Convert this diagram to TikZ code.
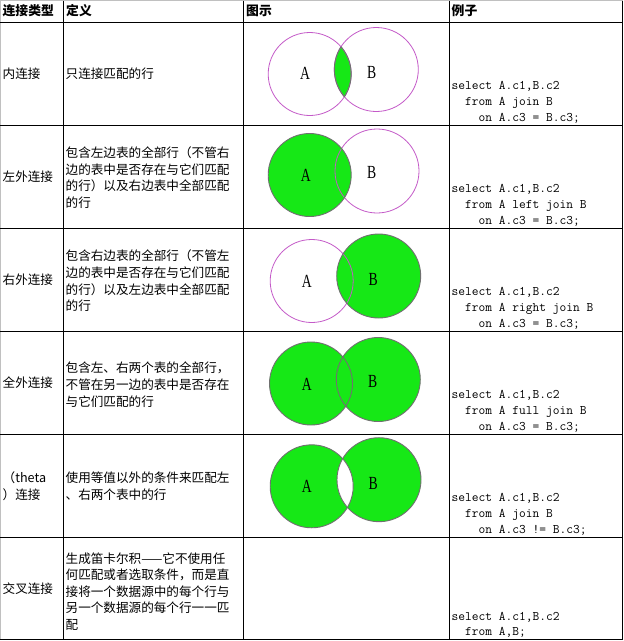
\documentclass[tikz,border=0pt]{standalone}
\usepackage{fontspec}
\setmainfont{Liberation Serif}
\newfontfamily\cjk{Noto Sans CJK SC}
\definecolor{vgreen}{RGB}{22,232,22}
\definecolor{vmag}{RGB}{196,90,200}
\definecolor{vgray}{RGB}{112,112,112}
\definecolor{lgray}{RGB}{192,192,192}
\tikzset{
  grid/.style={draw=black, line width=1pt},
  hdr/.style={inner sep=0pt, anchor=west, font=\cjk\bfseries\fontsize{12.8}{16}\selectfont},
  cell/.style={inner sep=0pt, anchor=west, align=left, font=\cjk\fontsize{12.6}{16.6}\selectfont},
  code/.style={inner sep=0pt, anchor=south west, align=left, font=\ttfamily\fontsize{13.1}{15.9}\selectfont},
  lbl/.style={inner sep=0pt, font=\fontsize{18.5}{18.5}\selectfont},
  magline/.style={draw=vmag, line width=0.8pt},
  grayline/.style={draw=vgray, line width=0.9pt},
  gfill/.style={fill=vgreen}
}
\newcommand{\nar}[1]{\scalebox{0.74}[1]{#1}}
\begin{document}
\begin{tikzpicture}[x=1pt,y=-1pt]
\useasboundingbox (0,0) rectangle (624,641);
\fill[white] (0,0) rectangle (624,641);
% outer border
\draw[lgray, line width=1pt] (0,640) -- (0,0.5) -- (623,0.5);
\draw[black, line width=1pt] (622,0.5) -- (622,639) -- (0,639);
% grid
\foreach \yy in {22,125.5,228,331,434,537} \draw[grid] (0,\yy) -- (622,\yy);
\foreach \xx in {63,243.5,449} \draw[grid] (\xx,0.5) -- (\xx,639);

% header
\node[hdr] (h1) at (2.5,11) {连接类型};
\node[hdr] (h2) at (66,11) {定义};
\node[hdr] (h3) at (246,11) {图示};
\node[hdr] (h4) at (451.5,11) {例子};

% column 1
\node[cell] (t1) at (2.5,73.8) {内连接};
\node[cell] (t2) at (2.5,176.8) {左外连接};
\node[cell] (t3) at (2.5,279.8) {右外连接};
\node[cell] (t4) at (2.5,382.8) {全外连接};
\node[cell] (t5) at (2.5,486) {（theta\\）连接};
\node[cell] (t6) at (2.5,588.3) {交叉连接};

% column 2
\node[cell] (d1) at (65.5,73.8) {只连接匹配的行};
\node[cell] (d2) at (65.5,177.6) {包含左边表的全部行（不管右\\边的表中是否存在与它们匹配\\的行）以及右边表中全部匹配\\的行};
\node[cell] (d3) at (65.5,281) {包含右边表的全部行（不管左\\边的表中是否存在与它们匹配\\的行）以及左边表中全部匹配\\的行};
\node[cell] (d4) at (65.5,384.6) {包含左、右两个表的全部行，\\不管在另一边的表中是否存在\\与它们匹配的行};
\node[cell] (d5) at (65.5,486) {使用等值以外的条件来匹配左\\、右两个表中的行};
\node[cell] (d6) at (65.5,591.5) {生成笛卡尔积——它不使用任\\何匹配或者选取条件，而是直\\接将一个数据源中的每个行与\\另一个数据源的每个行一一匹\\配};

% column 4
\node[code] (c1) at (451.5,123.5) {select A.c1,B.c2\\\phantom{xx}from A join B\\\phantom{xxxx}on A.c3 = B.c3;};
\node[code] (c2) at (451.5,226.5) {select A.c1,B.c2\\\phantom{xx}from A left join B\\\phantom{xxxx}on A.c3 = B.c3;};
\node[code] (c3) at (451.5,329.5) {select A.c1,B.c2\\\phantom{xx}from A right join B\\\phantom{xxxx}on A.c3 = B.c3;};
\node[code] (c4) at (451.5,432.5) {select A.c1,B.c2\\\phantom{xx}from A full join B\\\phantom{xxxx}on A.c3 = B.c3;};
\node[code] (c5) at (451.5,535.5) {select A.c1,B.c2\\\phantom{xx}from A join B\\\phantom{xxxx}on A.c3 != B.c3;};
\node[code] (c6) at (451.5,638) {select A.c1,B.c2\\\phantom{xx}from A,B;};

% Venn centres
\coordinate (A1) at (309.7,74);   \coordinate (B1) at (376.3,69.5);
\coordinate (A2) at (309.7,175);  \coordinate (B2) at (377,171);
\coordinate (A3) at (311.7,281);  \coordinate (B3) at (378.7,276);
\coordinate (A4) at (311,383.5);  \coordinate (B4) at (378.3,379.5);
\coordinate (A5) at (311.7,486.3);\coordinate (B5) at (379,479.7);
\def\ra{41.5pt}
\def\rb{42pt}

% row 1: inner join
\begin{scope}\clip (A1) circle[radius=\ra]; \fill[vgreen] (B1) circle[radius=\rb]; \end{scope}
\draw[magline] (A1) circle[radius=\ra];
\draw[magline] (B1) circle[radius=\rb];
\begin{scope}\clip (A1) circle[radius=\ra]; \draw[grayline] (B1) circle[radius=\rb]; \end{scope}
\begin{scope}\clip (B1) circle[radius=\rb]; \draw[grayline] (A1) circle[radius=\ra]; \end{scope}

% row 2: left join
\fill[vgreen] (A2) circle[radius=\ra];
\draw[magline] (B2) circle[radius=\rb];
\draw[grayline] (A2) circle[radius=\ra];

% row 3: right join
\fill[vgreen] (B3) circle[radius=\rb];
\draw[magline] (A3) circle[radius=\ra];
\draw[grayline] (B3) circle[radius=\rb];

% row 4: full join
\fill[vgreen] (A4) circle[radius=\ra];
\fill[vgreen] (B4) circle[radius=\rb];
\draw[grayline] (A4) circle[radius=\ra];
\draw[grayline] (B4) circle[radius=\rb];

% row 5: theta join
\fill[vgreen] (A5) circle[radius=\ra];
\fill[vgreen] (B5) circle[radius=\rb];
\begin{scope}\clip (A5) circle[radius=\ra]; \fill[white] (B5) circle[radius=\rb]; \end{scope}
\draw[grayline] (A5) circle[radius=\ra];
\draw[grayline] (B5) circle[radius=\rb];

% labels
\node[lbl] (la1) at (305,73) {\nar{A}};     \node[lbl] (lb1) at (371.7,72) {\nar{B}};
\node[lbl] (la2) at (305.7,175) {\nar{A}};  \node[lbl] (lb2) at (371.7,172.7) {\nar{B}};
\node[lbl] (la3) at (306.7,281.7) {\nar{A}};\node[lbl] (lb3) at (373.3,279.3) {\nar{B}};
\node[lbl] (la4) at (306.7,384.3) {\nar{A}};\node[lbl] (lb4) at (372.7,381.7) {\nar{B}};
\node[lbl] (la5) at (306.7,486.7) {\nar{A}};\node[lbl] (lb5) at (373.3,483.3) {\nar{B}};
\end{tikzpicture}
\end{document}
